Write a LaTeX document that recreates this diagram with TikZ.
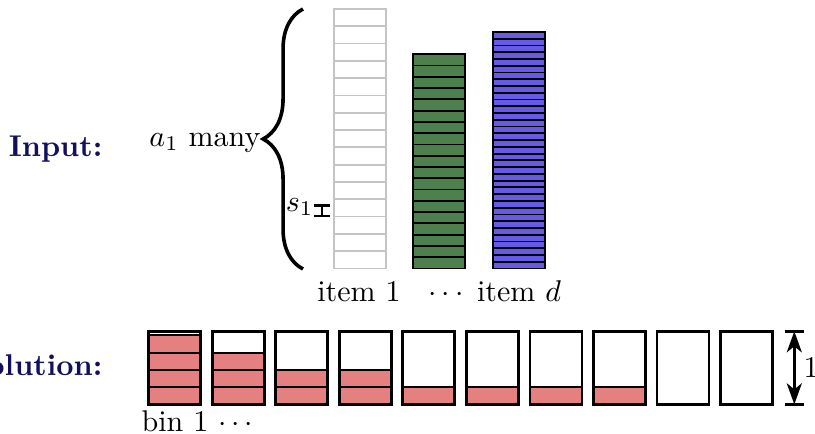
\documentclass[tikz,border=0pt]{standalone}
\usetikzlibrary{decorations.pathreplacing,arrows.meta}
\definecolor{itemred}{RGB}{229,128,128}
\definecolor{itemgreen}{RGB}{78,128,78}
\definecolor{itemblue}{RGB}{102,90,230}
\definecolor{labelblue}{RGB}{18,15,92}
\definecolor{itemgray}{RGB}{196,196,196}
\tikzset{
  title/.style={font=\bfseries, text=labelblue},
  txt/.style={inner sep=0pt},
  graycell/.style={draw=itemgray, line width=0.6pt},
  greencell/.style={draw=black, fill=itemgreen, line width=0.6pt},
  bluecell/.style={draw=black, fill=itemblue, line width=0.6pt},
  redcell/.style={draw=black, fill=itemred, line width=0.6pt},
  binbox/.style={draw=black, line width=0.9pt},
  bracestyle/.style={line width=1.2pt, decorate, decoration={brace, amplitude=13.3pt}},
  sizemark/.style={line width=0.8pt, {Bar[width=5.3pt]}-{Bar[width=5.3pt]}},
  dimline/.style={line width=1pt, {Stealth[length=7pt,width=5pt,inset=2pt]}-{Stealth[length=7pt,width=5pt,inset=2pt]}},
  dimtick/.style={line width=1pt}
}
\begin{document}
\begin{tikzpicture}[x=0.33333pt,y=-0.33333pt]
\useasboundingbox (0,0) rectangle (815,434);

% side labels
\node[title, txt, anchor=base east] (input) at (103,157) {Input:};
\node[title, txt, anchor=base east] (solution) at (103,376) {Solution:};

% item 1 column (15 copies)
\foreach \k in {0,...,14}
  \draw[graycell] (334,{9+17.3*\k}) rectangle ++(52,17.3);
% green item column (19 copies)
\foreach \k in {0,...,18}
  \draw[greencell] (413.3,{54.3+11.27*\k}) rectangle ++(51.7,11.27);
% blue item column (35 copies)
\foreach \k in {0,...,34}
  \draw[bluecell] (492.7,{32+6.757*\k}) rectangle ++(52,6.757);

% brace
\coordinate (bb) at (303,269);
\coordinate (bt) at (303,9);
\draw[bracestyle] (bb) -- (bt);
\node[txt, anchor=base east] (many) at (261,146.5) {$a_1$ many};

% size marker
\coordinate (stop) at (321.7,204.3);
\coordinate (sbot) at (321.7,217.3);
\draw[sizemark] (stop) -- (sbot);
\node[txt, anchor=base east] (s1) at (314,211.5) {$s_1$};

% item labels
\node[txt, anchor=base] (item1) at (359,301.5) {item 1};
\node[txt, anchor=base] (idots) at (446,301.5) {$\cdots$};
\node[txt, anchor=base] (itemd) at (519,301.5) {item $d$};

% bins
\foreach \i/\n in {0/4,1/3,2/2,3/2,4/1,5/1,6/1,7/1,8/0,9/0} {
  \pgfmathsetmacro{\cx}{174.6+63.55*\i}
  \ifnum\n>0
    \foreach \j in {1,...,\n}
      \draw[redcell] ({\cx-26},{404.4-17.25*\j}) rectangle ({\cx+26},{404.4-17.25*(\j-1)});
  \fi
  \draw[binbox] ({\cx-26},331.3) rectangle ({\cx+26},404.4);
}
\node[txt, anchor=base west] (bin1) at (141,431.5) {bin 1 $\cdots$};

% dimension
\coordinate (dtop) at (794.3,331.3);
\coordinate (dbot) at (794.3,404.4);
\coordinate (dtl) at (785,331.3);
\coordinate (dtr) at (803.5,331.3);
\coordinate (dbl) at (785,404.4);
\coordinate (dbr) at (803.5,404.4);
\draw[dimtick] (dtl) -- (dtr);
\draw[dimtick] (dbl) -- (dbr);
\draw[dimline] (dtop) -- (dbot);
\node[txt, anchor=west] (one) at (803,367.8) {1};
\end{tikzpicture}
\end{document}
